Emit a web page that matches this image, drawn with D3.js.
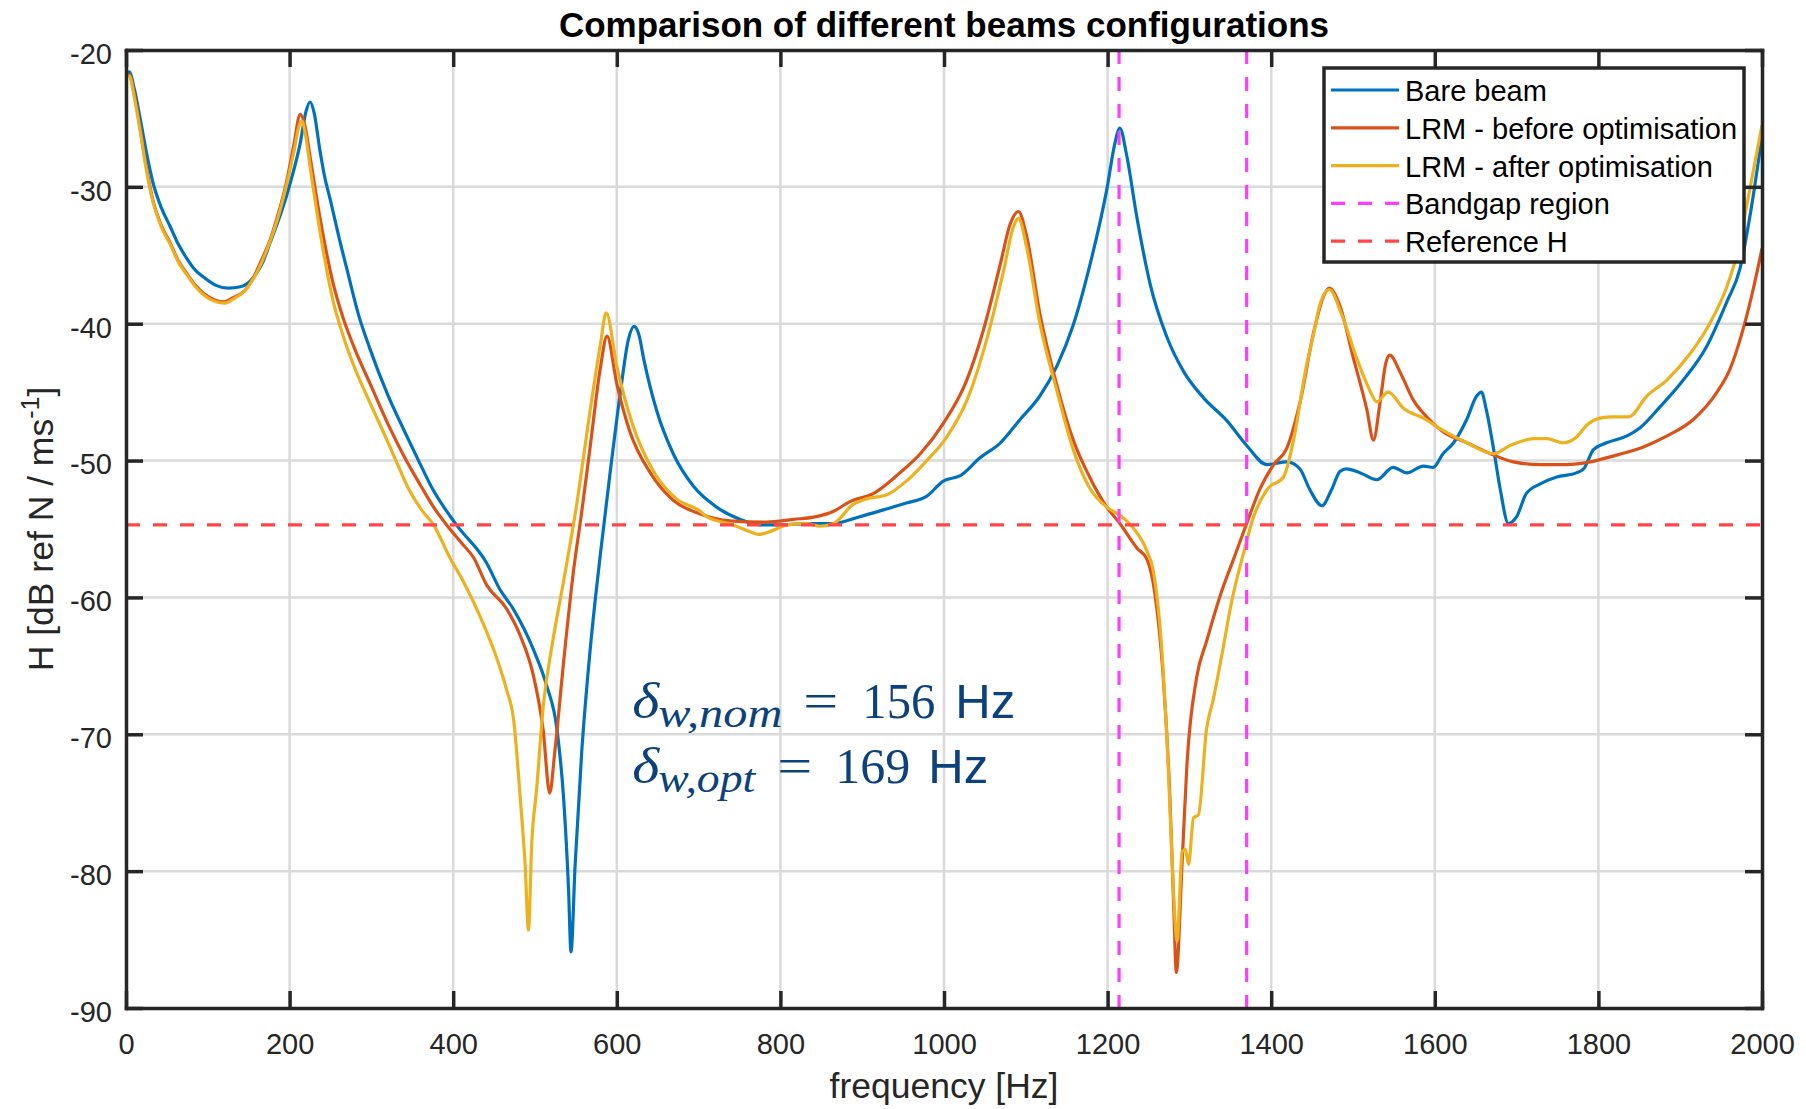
<!DOCTYPE html>
<html lang="en">
<head>
<meta charset="UTF-8">
<title>Comparison of different beams configurations</title>
<script src="https://d3js.org/d3.v7.min.js"></script>
<style>
  body { margin: 0; background: #fff; }
  svg { display: block; font-family: "Liberation Sans", Arial, sans-serif; }
  .axis text { font-size: 29px; fill: #262626; font-family: "Liberation Sans", Arial, sans-serif; }
  .axis path, .axis line { stroke: #262626; stroke-width: 3.5; }
  .grid line { stroke: #dadada; stroke-width: 2.5; }
</style>
</head>
<body>
<div id="chart"></div>
<script>
// frequency [Hz], H [dB]
const bareBeam = [
  [0,-21.8],[4,-21.6],[10,-22.8],[17,-24.9],[25,-27.5],[33,-29.7],[43,-31.5],[54,-32.9],[64,-34.2],[74,-35.2],
  [85,-36.1],[95,-36.6],[110,-37.2],[125,-37.4],[140,-37.3],[156,-36.6],[168,-35.4],[176,-34.1],[186,-32.5],
  [196,-30.7],[205,-28.8],[213,-26.8],[220,-24.5],[225,-23.8],[230,-24.6],[237,-27.3],[243,-29.3],[250,-31.0],
  [260,-33.6],[270,-36.0],[284,-39.3],[298,-41.8],[320,-45.2],[340,-47.8],[356,-49.8],[375,-52.1],[404,-54.7],
  [441,-57.5],[457,-59.4],[473,-60.8],[498,-63.8],[514,-66.4],[527,-69.7],[535,-74.7],[541,-81.3],[544,-85.9],
  [549,-79.6],[557,-71.4],[567,-64.1],[580,-56.8],[592,-50.8],[604,-45.2],[614,-41.2],[621,-40.2],[627,-40.8],
  [633,-42.6],[649,-46.4],[669,-49.5],[694,-51.9],[722,-53.4],[751,-54.3],[775,-54.7],[804,-54.7],[832,-54.6],
  [865,-54.6],[897,-54.1],[926,-53.6],[954,-53.1],[979,-52.6],[999,-51.5],[1020,-51.1],[1044,-49.8],[1069,-48.7],
  [1093,-47.0],[1117,-45.3],[1138,-43.1],[1158,-40.1],[1178,-35.8],[1199,-30.2],[1209,-26.8],[1215,-25.7],
  [1223,-27.6],[1236,-32.3],[1252,-37.1],[1272,-40.9],[1293,-43.5],[1317,-45.4],[1346,-47.1],[1370,-48.9],
  [1395,-50.3],[1419,-50.1],[1435,-50.6],[1447,-52.1],[1462,-53.3],[1474,-52.1],[1484,-50.8],[1492,-50.6],
  [1509,-50.9],[1529,-51.4],[1549,-50.5],[1566,-50.9],[1586,-50.4],[1598,-50.5],[1610,-49.5],[1623,-48.7],
  [1639,-47.0],[1651,-45.3],[1657,-45.0],[1663,-46.3],[1672,-49.2],[1680,-52.1],[1690,-54.6],[1700,-54.1],
  [1712,-52.4],[1729,-51.7],[1749,-51.2],[1773,-50.9],[1782,-50.6],[1794,-49.2],[1810,-48.7],[1835,-48.2],
  [1851,-47.6],[1875,-46.1],[1904,-44.1],[1932,-41.7],[1957,-38.4],[1973,-36.0],[1987,-31.5],[2000,-26.3]
];
const lrmBefore = [
  [0,-21.9],[4,-21.8],[10,-23.2],[17,-25.6],[25,-28.6],[33,-31.0],[43,-32.8],[54,-34.1],[64,-35.4],[74,-36.3],
  [85,-37.2],[95,-37.8],[110,-38.3],[120,-38.4],[131,-38.1],[145,-37.6],[156,-36.6],[166,-35.3],[176,-33.9],
  [186,-32.0],[196,-29.7],[205,-27.0],[213,-24.7],[219,-25.6],[225,-27.8],[237,-32.2],[253,-37.0],[265,-39.5],
  [278,-41.6],[300,-44.6],[320,-47.3],[340,-49.7],[360,-51.8],[376,-53.4],[392,-54.7],[410,-56.0],[425,-57.1],
  [441,-59.1],[465,-60.8],[482,-62.8],[498,-65.7],[510,-69.7],[518,-74.3],[524,-71.4],[535,-64.7],[547,-58.1],
  [557,-53.8],[567,-49.2],[580,-43.2],[588,-40.9],[600,-44.4],[616,-47.9],[641,-50.9],[669,-52.9],[702,-53.9],
  [738,-54.4],[783,-54.5],[816,-54.3],[844,-54.1],[865,-53.7],[885,-53.0],[914,-52.4],[946,-50.9],[971,-49.5],
  [999,-47.3],[1028,-44.1],[1048,-40.5],[1069,-35.6],[1081,-32.7],[1091,-31.8],[1101,-33.6],[1117,-39.2],
  [1138,-44.5],[1158,-48.5],[1178,-51.2],[1199,-53.4],[1215,-54.6],[1236,-56.4],[1248,-57.2],[1258,-59.8],
  [1268,-65.8],[1276,-74.4],[1281,-82.9],[1284,-87.4],[1291,-79.5],[1297,-72.2],[1309,-65.8],[1321,-63.2],
  [1338,-59.8],[1354,-57.2],[1370,-54.6],[1386,-52.1],[1403,-50.3],[1419,-49.1],[1435,-45.8],[1452,-40.6],
  [1464,-38.0],[1471,-37.4],[1484,-38.7],[1500,-42.4],[1517,-46.3],[1525,-48.5],[1533,-45.8],[1540,-42.9],
  [1545,-42.3],[1558,-43.6],[1574,-45.6],[1590,-46.8],[1610,-47.9],[1639,-48.7],[1668,-49.5],[1696,-50.1],
  [1729,-50.3],[1761,-50.3],[1790,-50.1],[1822,-49.6],[1855,-49.0],[1884,-48.2],[1916,-47.0],[1945,-45.0],
  [1961,-43.3],[1975,-40.8],[1988,-37.8],[2000,-34.5]
];
const lrmAfter = [
  [0,-22.0],[4,-21.9],[10,-23.4],[17,-25.8],[25,-28.8],[33,-31.1],[43,-32.9],[54,-34.2],[64,-35.5],[74,-36.4],
  [85,-37.3],[95,-37.9],[110,-38.4],[120,-38.5],[131,-38.2],[145,-37.6],[156,-36.7],[166,-35.5],[176,-34.0],
  [186,-32.2],[196,-29.9],[205,-27.5],[213,-25.3],[215,-25.2],[220,-26.4],[225,-28.5],[237,-33.2],[253,-38.3],
  [265,-40.8],[278,-43.0],[300,-46.0],[319,-48.5],[330,-50.0],[345,-52.0],[360,-53.5],[376,-54.7],[396,-57.1],
  [412,-58.8],[433,-61.4],[453,-64.4],[465,-66.7],[474,-69.0],[482,-74.7],[488,-79.6],[492,-84.3],[496,-78.0],
  [502,-74.0],[510,-68.0],[522,-63.1],[535,-58.8],[551,-53.2],[567,-46.5],[580,-41.5],[587,-39.2],[600,-43.1],
  [620,-47.5],[645,-50.8],[673,-52.8],[702,-53.7],[710,-54.1],[742,-54.7],[763,-55.2],[773,-55.4],[791,-55.1],
  [808,-54.7],[832,-54.6],[848,-54.8],[865,-54.6],[889,-53.2],[905,-52.8],[930,-52.5],[954,-51.5],[979,-50.0],
  [1003,-48.3],[1028,-45.6],[1052,-41.2],[1073,-36.1],[1085,-32.9],[1091,-32.3],[1101,-34.4],[1117,-39.9],
  [1138,-44.9],[1158,-49.2],[1178,-52.0],[1199,-53.4],[1215,-54.0],[1231,-54.9],[1248,-56.6],[1256,-58.1],
  [1266,-63.6],[1274,-72.2],[1280,-80.8],[1285,-85.1],[1291,-78.6],[1295,-78.4],[1299,-79.5],[1305,-76.1],
  [1311,-75.9],[1321,-69.6],[1329,-67.5],[1340,-64.1],[1352,-60.2],[1366,-56.8],[1378,-54.2],[1395,-52.1],
  [1415,-51.2],[1427,-48.6],[1443,-43.1],[1452,-40.7],[1460,-38.5],[1471,-37.5],[1486,-39.3],[1505,-42.6],
  [1520,-44.8],[1529,-45.7],[1543,-45.0],[1562,-46.2],[1586,-46.9],[1610,-47.8],[1639,-48.7],[1672,-49.5],
  [1692,-48.9],[1721,-48.4],[1737,-48.4],[1757,-48.7],[1773,-48.3],[1786,-47.4],[1802,-46.9],[1818,-46.8],
  [1837,-46.8],[1859,-45.3],[1884,-44.1],[1912,-42.2],[1936,-40.0],[1957,-37.3],[1969,-35.0],[1985,-30.2],
  [2000,-25.5]
];
const bandgapEdges = [1214, 1370];
const referenceH = -54.7;

const seriesNames = ["Bare beam", "LRM - before optimisation", "LRM - after optimisation", "Bandgap region", "Reference H"];
const seriesColors = ["#0072bd", "#d95319", "#edb120", "#ff3dff", "#ff4545"];
const xTickValues = [0, 200, 400, 600, 800, 1000, 1200, 1400, 1600, 1800, 2000];
const yTickValues = [-90, -80, -70, -60, -50, -40, -30, -20];

const W = 1806, H = 1109;
const pL = 126, pR = 1762, pT = 50, pB = 1008;

const svg = d3.select("#chart").append("svg")
  .attr("width", W)
  .attr("height", H);

const x = d3.scaleLinear().domain([0, 2000]).range([pL, pR]);
const y = d3.scaleLinear().domain([-90, -20]).range([pB, pT]);

svg.append("defs").append("clipPath").attr("id", "plot-clip")
  .append("rect").attr("x", pL).attr("y", pT)
  .attr("width", pR - pL).attr("height", pB - pT);

// grid
const grid = svg.append("g").attr("class", "grid");
grid.selectAll(".gx").data(xTickValues.slice(1, -1)).join("line")
  .attr("x1", d => x(d)).attr("x2", d => x(d))
  .attr("y1", pT).attr("y2", pB);
grid.selectAll(".gy").data(yTickValues.slice(1, -1)).join("line")
  .attr("y1", d => y(d)).attr("y2", d => y(d))
  .attr("x1", pL).attr("x2", pR);

// curves
const line = d3.line()
  .x(d => x(d[0]))
  .y(d => y(d[1]))
  .curve(d3.curveMonotoneX);

const plot = svg.append("g").attr("clip-path", "url(#plot-clip)");
[bareBeam, lrmBefore, lrmAfter].forEach((s, i) => {
  plot.append("path")
    .datum(s)
    .attr("d", line)
    .attr("fill", "none")
    .attr("stroke", seriesColors[i])
    .attr("stroke-width", 3.2)
    .attr("stroke-linejoin", "round");
});

// bandgap + reference
plot.selectAll(".bandgap").data(bandgapEdges).join("line")
  .attr("x1", d => x(d)).attr("x2", d => x(d))
  .attr("y1", pT).attr("y2", pB)
  .attr("stroke", seriesColors[3])
  .attr("stroke-width", 3.2)
  .attr("stroke-dasharray", "14 13");
plot.append("line")
  .attr("x1", pL).attr("x2", pR)
  .attr("y1", y(referenceH)).attr("y2", y(referenceH))
  .attr("stroke", seriesColors[4])
  .attr("stroke-width", 3.2)
  .attr("stroke-dasharray", "14 13");

// axes
const tick = 17;
const plain = d => String(d);
svg.append("g").attr("class", "axis")
  .attr("transform", `translate(0,${pB})`)
  .call(d3.axisBottom(x).tickValues(xTickValues).tickFormat(plain).tickSize(-tick).tickSizeOuter(0).tickPadding(25));
svg.append("g").attr("class", "axis")
  .attr("transform", `translate(0,${pT})`)
  .call(d3.axisTop(x).tickValues(xTickValues).tickSize(-tick).tickSizeOuter(0).tickFormat(""));
svg.append("g").attr("class", "axis")
  .attr("transform", `translate(${pL},0)`)
  .call(d3.axisLeft(y).tickValues(yTickValues).tickFormat(plain).tickSize(-tick).tickSizeOuter(0).tickPadding(14))
  .selectAll("text").attr("dy", "0.46em");
svg.append("g").attr("class", "axis")
  .attr("transform", `translate(${pR},0)`)
  .call(d3.axisRight(y).tickValues(yTickValues).tickSize(-tick).tickSizeOuter(0).tickFormat(""));
svg.selectAll(".axis .domain").attr("stroke-linecap", "square");

// titles
svg.append("text")
  .attr("x", (pL + pR) / 2).attr("y", 37)
  .attr("text-anchor", "middle")
  .attr("font-size", 35).attr("font-weight", "bold").attr("fill", "#000")
  .text("Comparison of different beams configurations");

svg.append("text")
  .attr("x", (pL + pR) / 2).attr("y", 1098)
  .attr("text-anchor", "middle")
  .attr("font-size", 35.5).attr("fill", "#262626")
  .text("frequency [Hz]");

const yl = svg.append("text")
  .attr("transform", `translate(53,${(pT + pB) / 2}) rotate(-90)`)
  .attr("text-anchor", "middle")
  .attr("font-size", 35.5).attr("fill", "#262626");
yl.append("tspan").text("H [dB ref N / ms");
yl.append("tspan").attr("font-size", 25).attr("dy", -14).text("-1");
yl.append("tspan").attr("dy", 14).text("]");

// annotation
const noteColor = "#0c427c";
const notes = [
  { sub: "w,nom", val: "156", at: -68.8, parts: [[0, 27], [26, 124], [171, 35], [230, 73], [323, 60]] },
  { sub: "w,opt", val: "169", at: -73.55, parts: [[0, 27], [26, 97], [145, 35], [203, 75], [296, 60]] }
];
notes.forEach(n => {
  const x0 = x(619), base = y(n.at);
  const pieces = [
    { t: "\u03b4", fam: "Liberation Serif", size: 50, style: "italic", dy: 0 },
    { t: n.sub, fam: "Liberation Serif", size: 40, style: "italic", dy: 9 },
    { t: "=", fam: "Liberation Serif", size: 50, style: "normal", dy: 0 },
    { t: n.val, fam: "Liberation Serif", size: 50, style: "normal", dy: 0 },
    { t: "Hz", fam: "Liberation Sans", size: 48, style: "normal", dy: 0 }
  ];
  pieces.forEach((p, i) => {
    svg.append("text")
      .attr("x", x0 + n.parts[i][0])
      .attr("y", base + p.dy)
      .attr("textLength", n.parts[i][1])
      .attr("lengthAdjust", "spacingAndGlyphs")
      .attr("font-family", p.fam)
      .attr("font-size", p.size)
      .attr("font-style", p.style)
      .attr("fill", noteColor)
      .text(p.t);
  });
});

// legend
const lg = svg.append("g");
lg.append("rect")
  .attr("x", 1324).attr("y", 68).attr("width", 420).attr("height", 194)
  .attr("fill", "#fff").attr("stroke", "#262626").attr("stroke-width", 3.5);
seriesNames.forEach((name, i) => {
  const ry = 90 + i * 37.8;
  lg.append("line")
    .attr("x1", 1331).attr("x2", 1399).attr("y1", ry).attr("y2", ry)
    .attr("stroke", seriesColors[i]).attr("stroke-width", 3.2)
    .attr("stroke-dasharray", i >= 3 ? "14 13" : null);
  lg.append("text")
    .attr("x", 1405).attr("y", ry + 11)
    .attr("font-size", 29).attr("fill", "#000")
    .text(name);
});
</script>
</body>
</html>
